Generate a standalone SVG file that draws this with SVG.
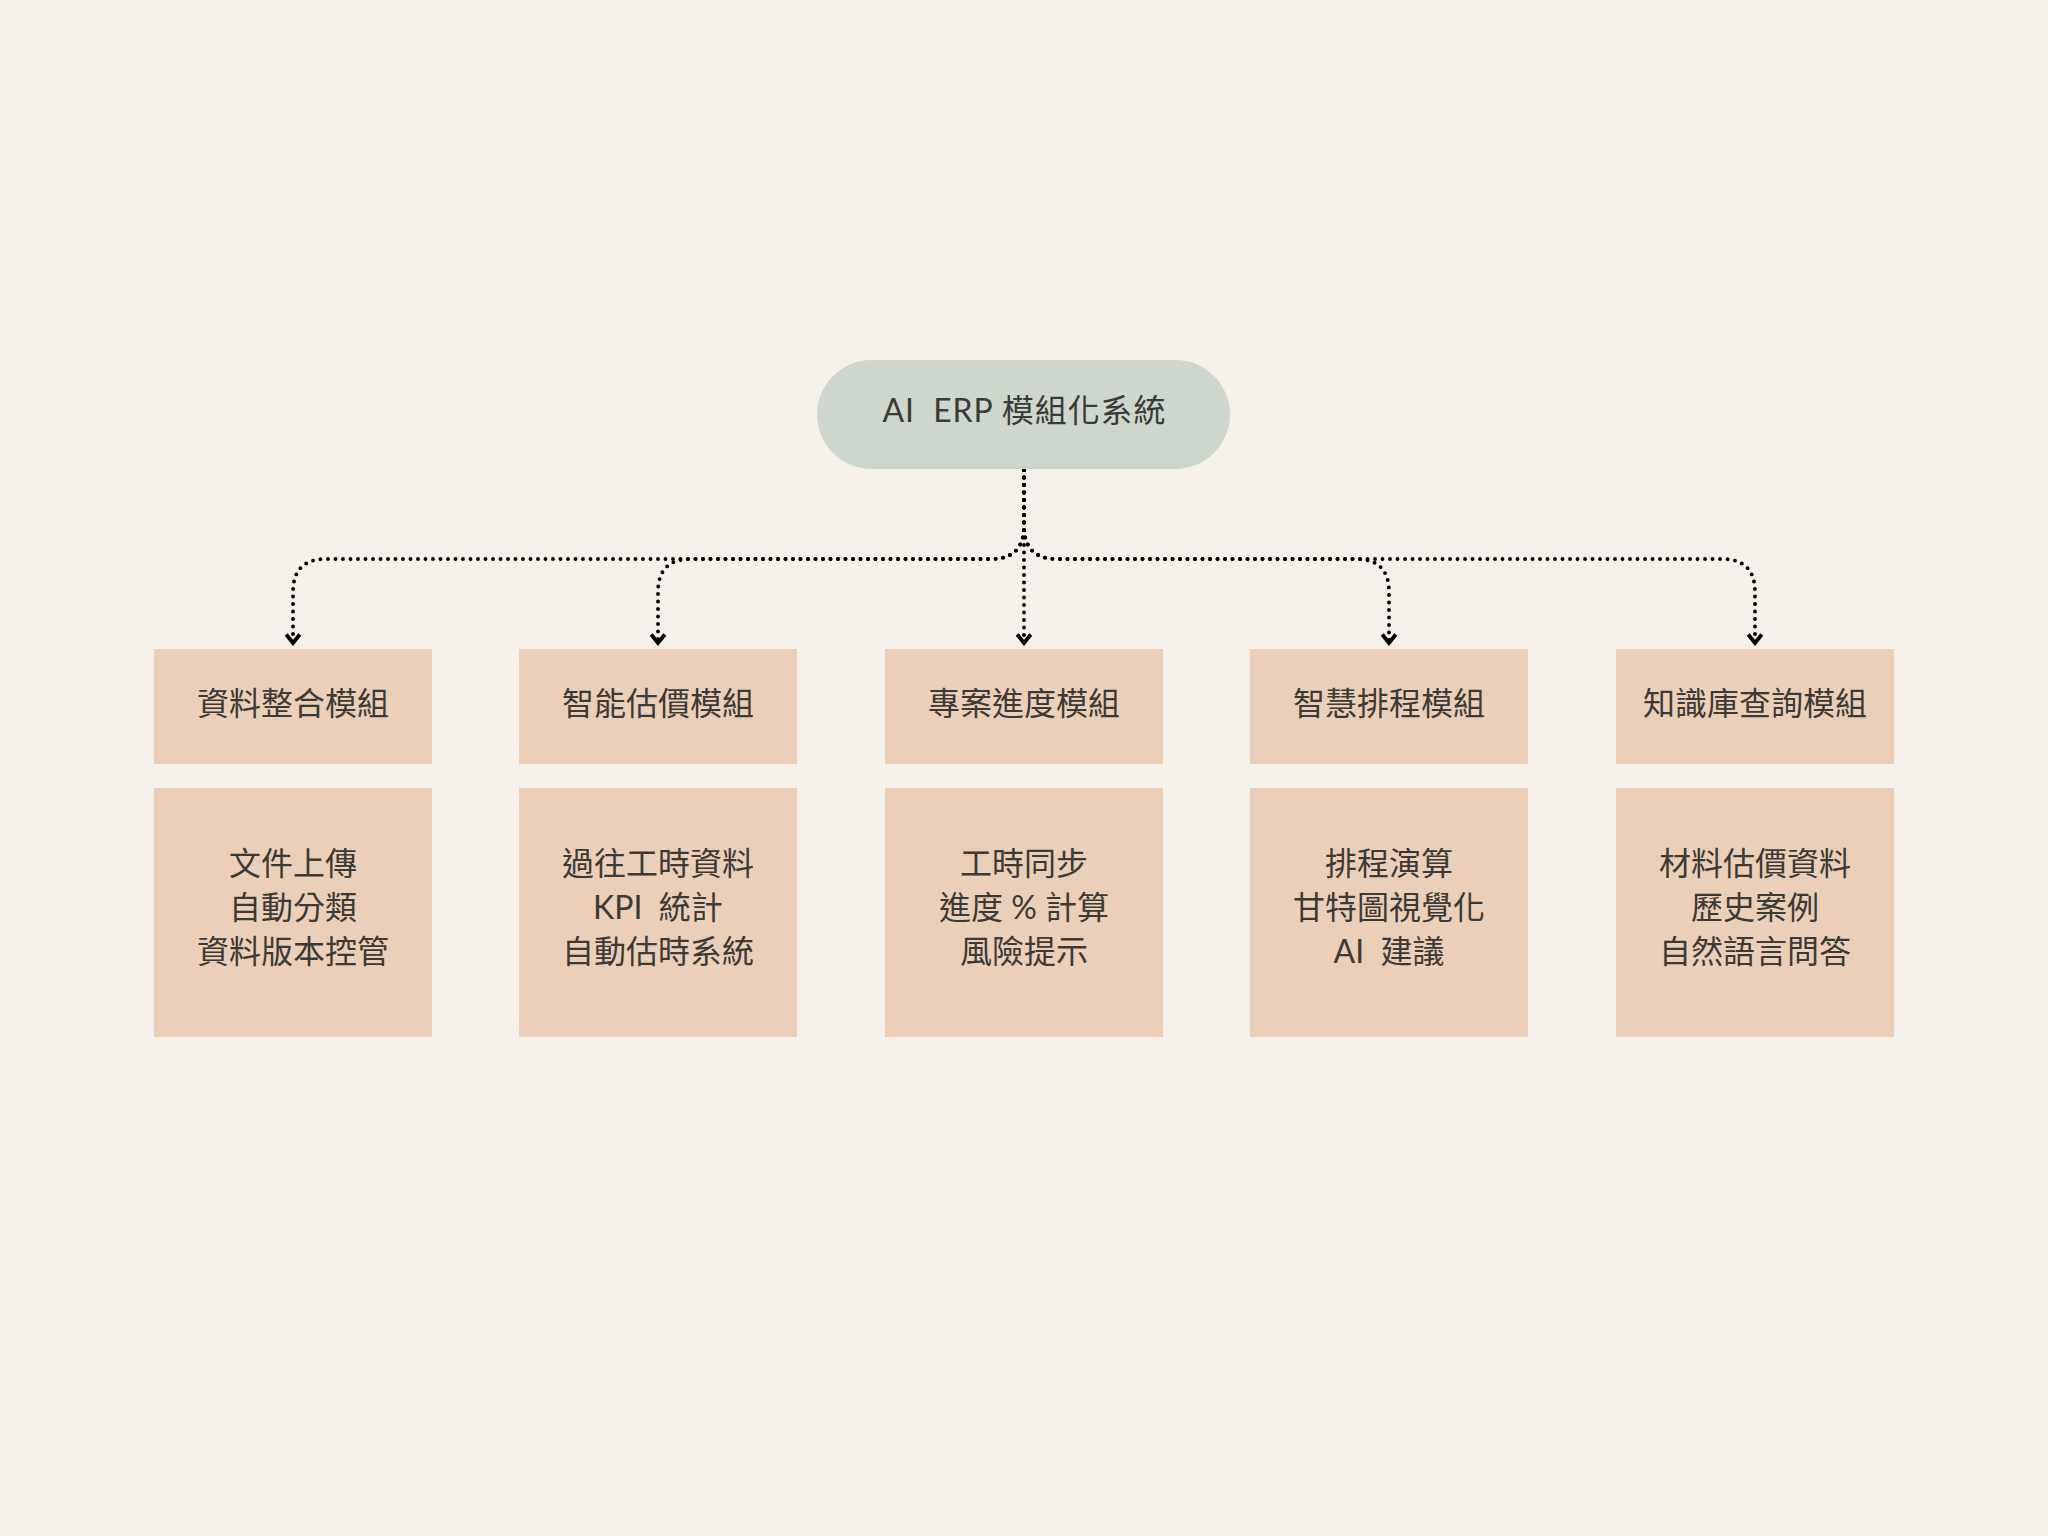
<svg xmlns="http://www.w3.org/2000/svg" width="2048" height="1536" viewBox="0 0 2048 1536">
  <defs>
    <style>
      .bg { fill: #F5F0EA; }
      .root { fill: #CDD7CE; }
      .box { fill: #ECCFB8; }
      .t { font-family: "Lato", "Noto Sans CJK TC", "Noto Sans", sans-serif; font-size: 32px; fill: #3B3A36; text-anchor: middle; white-space: pre; }
      .conn { fill: none; stroke: #000; stroke-width: 3.9; stroke-linecap: round; stroke-dasharray: 0 7.5; }
    </style>
    <marker id="arrow" viewBox="-14 -10 18 20" refX="0" refY="0" markerWidth="18" markerHeight="20" markerUnits="userSpaceOnUse" orient="auto">
      <path d="M-8.5,-6.8 L0,0 L-8.5,6.8" fill="none" stroke="#000" stroke-width="3.8" stroke-linejoin="miter"/>
    </marker>
  </defs>

  <rect class="bg" x="0" y="0" width="2048" height="1536"/>

  <g id="connectors">
    <path class="conn" marker-end="url(#arrow)" d="M1024,470 L1024,526 Q1024,559 991,559 L326,559 Q293,559 293,592 L293,643"/>
    <path class="conn" marker-end="url(#arrow)" d="M1024,470 L1024,526 Q1024,559 991,559 L691,559 Q658,559 658,592 L658,643"/>
    <path class="conn" marker-end="url(#arrow)" d="M1024,470 L1024,643"/>
    <path class="conn" marker-end="url(#arrow)" d="M1024,470 L1024,526 Q1024,559 1057,559 L1356,559 Q1389,559 1389,592 L1389,643"/>
    <path class="conn" marker-end="url(#arrow)" d="M1024,470 L1024,526 Q1024,559 1057,559 L1722,559 Q1755,559 1755,592 L1755,643"/>
  </g>

  <g id="root">
    <rect class="root" x="817" y="360" width="413" height="109" rx="54.5" ry="54.5"/>
    <text class="t" x="1024" y="422" textLength="283" lengthAdjust="spacing">AI  ERP 模組化系統</text>
  </g>

  <g id="m1">
    <rect class="box" x="154" y="649" width="278" height="115"/>
    <text class="t" x="293" y="715">資料整合模組</text>
  </g>
  <g id="m1-detail">
    <rect class="box" x="154" y="788" width="278" height="249"/>
    <text class="t" x="293" y="875">文件上傳</text>
    <text class="t" x="293" y="919">自動分類</text>
    <text class="t" x="293" y="963">資料版本控管</text>
  </g>

  <g id="m2">
    <rect class="box" x="519" y="649" width="278" height="115"/>
    <text class="t" x="658" y="715">智能估價模組</text>
  </g>
  <g id="m2-detail">
    <rect class="box" x="519" y="788" width="278" height="249"/>
    <text class="t" x="658" y="875">過往工時資料</text>
    <text class="t" x="658" y="919">KPI  統計</text>
    <text class="t" x="658" y="963">自動估時系統</text>
  </g>

  <g id="m3">
    <rect class="box" x="885" y="649" width="278" height="115"/>
    <text class="t" x="1024" y="715">專案進度模組</text>
  </g>
  <g id="m3-detail">
    <rect class="box" x="885" y="788" width="278" height="249"/>
    <text class="t" x="1024" y="875">工時同步</text>
    <text class="t" x="1024" y="919">進度 % 計算</text>
    <text class="t" x="1024" y="963">風險提示</text>
  </g>

  <g id="m4">
    <rect class="box" x="1250" y="649" width="278" height="115"/>
    <text class="t" x="1389" y="715">智慧排程模組</text>
  </g>
  <g id="m4-detail">
    <rect class="box" x="1250" y="788" width="278" height="249"/>
    <text class="t" x="1389" y="875">排程演算</text>
    <text class="t" x="1389" y="919">甘特圖視覺化</text>
    <text class="t" x="1389" y="963">AI  建議</text>
  </g>

  <g id="m5">
    <rect class="box" x="1616" y="649" width="278" height="115"/>
    <text class="t" x="1755" y="715">知識庫查詢模組</text>
  </g>
  <g id="m5-detail">
    <rect class="box" x="1616" y="788" width="278" height="249"/>
    <text class="t" x="1755" y="875">材料估價資料</text>
    <text class="t" x="1755" y="919">歷史案例</text>
    <text class="t" x="1755" y="963">自然語言問答</text>
  </g>
</svg>
